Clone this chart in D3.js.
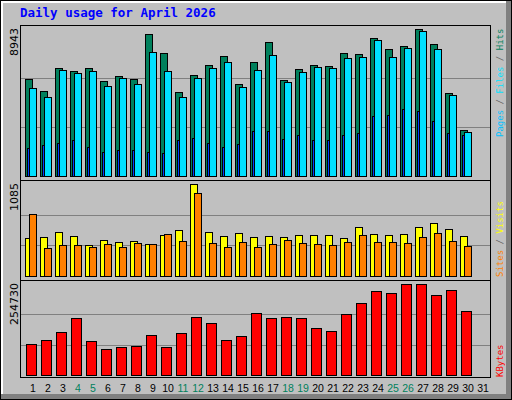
<!DOCTYPE html>
<html>
<head>
<meta charset="utf-8">
<script src="https://cdn.jsdelivr.net/npm/d3@7"></script>
<style>
  body { margin: 0; background: #fff; }
  svg { display: block; }
</style>
</head>
<body>
<svg id="chart" width="512" height="400"></svg>
<script>
// Daily values
const days = d3.range(1, 32);
const weekendDays = [4, 5, 11, 12, 18, 19, 25, 26];
const hits = [5885, 5171, 6571, 6388, 6571, 5780, 6084, 5901, 8639, 7483, 5111, 6145, 6753, 7301, 5597,
  6936, 8153, 5841, 6510, 6753, 6692, 7483, 7422, 8396, 7727, 7909, 8943, 8031, 5050, 2799];
const files = [5354, 4806, 6449, 6267, 6388, 5476, 5962, 5597, 7544, 6388, 4806, 5962, 6571, 6936, 5415,
  6449, 7362, 5719, 6327, 6632, 6571, 7179, 7240, 8274, 7240, 7788, 8822, 7727, 4928, 2677];
const pages = [1703, 1886, 2008, 2190, 1764, 1460, 1582, 1582, 1460, 1399, 2190, 2312, 2008, 1764, 1947,
  2738, 2738, 2251, 2494, 2190, 2190, 2494, 2616, 3650, 3711, 4076, 3955, 3346, 2616, 2494];
const visits = [448, 460, 519, 472, 365, 424, 401, 413, 377, 483, 542, 1085, 519, 472, 507,
  460, 472, 460, 483, 483, 483, 448, 578, 495, 483, 495, 578, 625, 554, 472];
const sites = [731, 330, 365, 365, 342, 377, 342, 389, 377, 495, 413, 979, 389, 342, 401,
  342, 377, 424, 389, 377, 365, 401, 483, 401, 401, 389, 460, 507, 413, 354];
const kbytes = [86775, 97972, 120366, 159554, 95173, 72779, 78378, 81177, 111968, 78378, 117566, 162353, 145557, 97972, 109168,
  173550, 159554, 162353, 159554, 131562, 123165, 170751, 201542, 235133, 229534, 254730, 254730, 223935, 237932, 179149];

const svg = d3.select('#chart');
const mono = 'DejaVu Sans Mono, monospace';
const sans = 'DejaVu Sans, sans-serif';

// outer frame with bevel
svg.append('rect').attr('x', 0).attr('y', 0).attr('width', 512).attr('height', 400).attr('fill', '#000');
svg.append('rect').attr('x', 1).attr('y', 1).attr('width', 510).attr('height', 398).attr('fill', '#808080');
svg.append('rect').attr('x', 1).attr('y', 1).attr('width', 505).attr('height', 393).attr('fill', '#fff');
svg.append('rect').attr('x', 3).attr('y', 3).attr('width', 503).attr('height', 391).attr('fill', '#c0c0c0');

svg.append('text').attr('x', 20).attr('y', 17)
  .attr('font-family', mono).attr('font-weight', 'bold').attr('font-size', 12.5)
  .attr('fill', '#0000ff').text('Daily usage for April 2026');

const x = d3.scaleLinear().domain([1, 31]).range([25, 475]);

// panels
const panels = [
  { top: 25, bottom: 180, base: 176, peak: 29, max: 8943 },
  { top: 180, bottom: 280, base: 276, peak: 184, max: 1085 },
  { top: 280, bottom: 377, base: 375, peak: 284, max: 254730 }
];
panels.forEach(p => {
  p.y = d3.scaleLinear().domain([0, p.max]).range([p.base, p.peak]);
  const g = svg.append('g');
  const h = p.base - p.peak;
  [1, 2].forEach(k => {
    g.append('line').attr('x1', 21).attr('x2', 490)
      .attr('y1', p.base - Math.round(h * k / 3) + 0.5).attr('y2', p.base - Math.round(h * k / 3) + 0.5)
      .attr('stroke', '#808080');
  });
  g.append('rect').attr('x', 20.5).attr('y', p.top + 0.5).attr('width', 470).attr('height', p.bottom - p.top)
    .attr('fill', 'none').attr('stroke', '#000');
  svg.append('text')
    .attr('transform', `translate(18,${p.peak - 1}) rotate(-90)`)
    .attr('text-anchor', 'end').attr('font-family', sans).attr('font-size', 11)
    .text(p.max);
});

function bars(values, p, dx, w, color) {
  svg.append('g').selectAll('rect').data(values).join('rect')
    .attr('x', (d, i) => x(i + 1) + dx + 0.5)
    .attr('y', d => Math.round(p.y(d)) + 0.5)
    .attr('width', w)
    .attr('height', d => p.base - Math.round(p.y(d)))
    .attr('fill', color).attr('stroke', '#000');
}

bars(hits, panels[0], 0, 7, '#00805c');
bars(files, panels[0], 4, 7, '#00e0ff');
bars(pages, panels[0], 2, 2, '#0040ff');
bars(visits, panels[1], 0, 7, '#ffff00');
bars(sites, panels[1], 4, 7, '#ff8000');
bars(kbytes, panels[2], 1, 10, '#ff0000');

// day labels
svg.append('g').selectAll('text').data(days).join('text')
  .attr('x', d => x(d) + 8).attr('y', 392)
  .attr('text-anchor', 'middle').attr('font-family', 'Liberation Sans, sans-serif').attr('font-size', 10.5)
  .attr('fill', d => weekendDays.includes(d) ? '#00805c' : '#000')
  .text(d => d);

// right side legends
function legend(parts, yBottom) {
  const t = svg.append('text')
    .attr('transform', `translate(503,${yBottom}) rotate(-90)`)
    .attr('font-family', mono).attr('font-size', 9);
  parts.forEach(([s, c]) => t.append('tspan').attr('fill', c).text(s));
}
legend([['Pages', '#00c0ff'], [' / ', '#606060'], ['Files', '#00e0ff'], [' / ', '#606060'], ['Hits', '#00805c']], 137);
legend([['Sites', '#ff8000'], [' / ', '#606060'], ['Visits', '#ffff00']], 277);
legend([['KBytes', '#ff0000']], 377);
</script>
</body>
</html>
